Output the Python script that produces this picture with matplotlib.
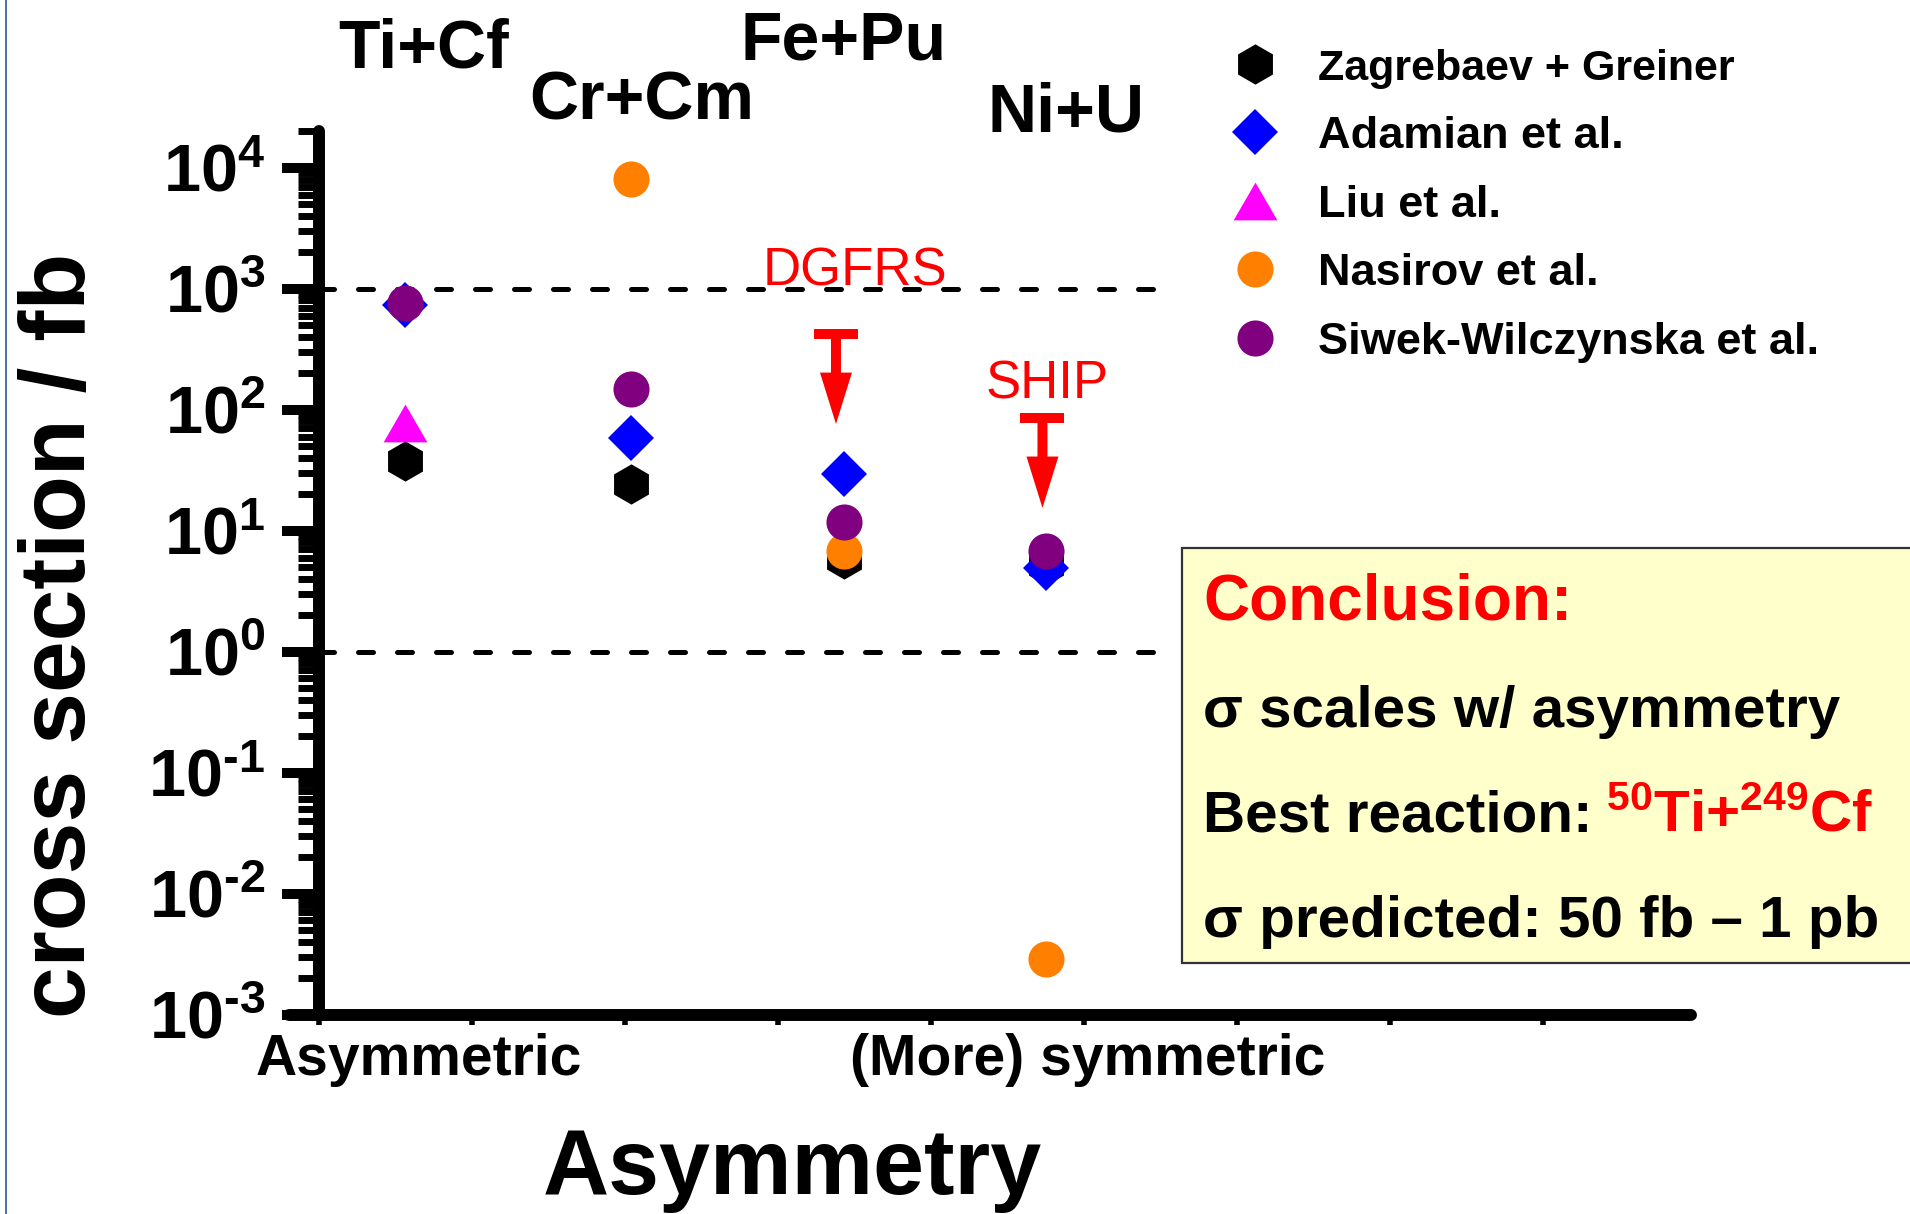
import numpy as np
import matplotlib
matplotlib.use("Agg")
import matplotlib.pyplot as plt
from matplotlib import transforms
from matplotlib.lines import Line2D
from matplotlib.patches import Rectangle
from matplotlib.ticker import LogLocator, FuncFormatter, FixedLocator

plt.rcParams['font.family'] = ['Liberation Sans', 'DejaVu Sans']
plt.rcParams['font.weight'] = 'bold'
plt.rcParams['mathtext.fontset'] = 'custom'
plt.rcParams['mathtext.rm'] = 'Liberation Sans:bold'
plt.rcParams['mathtext.it'] = 'Liberation Sans:bold'
plt.rcParams['mathtext.bf'] = 'Liberation Sans:bold'
plt.rcParams['mathtext.default'] = 'rm'

# ---------------- data ---------------- #
systems = ["Ti+Cf", "Cr+Cm", "Fe+Pu", "Ni+U"]
sys_x = [0.56, 2.04, 3.43, 4.75]

nan = np.nan
zagrebaev = [38, 24.4, 5.8, 5.2]
adamian = [741, 58.7, 29.4, 4.9]
liu = [77, nan, nan, nan]
nasirov = [nan, 8020, 6.85, 0.00287]
siwek = [760, 148, 11.8, 6.85]

series_names = ["Zagrebaev + Greiner", "Adamian et al.", "Liu et al.",
                "Nasirov et al.", "Siwek-Wilczynska et al."]

exp_labels = ["DGFRS", "SHIP"]
exp_x = [3.38, 4.73]
exp_limits = [425, 86]

ref_levels = [1e3, 1e0]

box_lines = ["Conclusion:", "\u03c3 scales w/ asymmetry", "Best reaction:",
             "\u03c3 predicted: 50 fb \u2013 1 pb"]

# ---------------- layout (pixels) ---------------- #
W, H = 1910, 1214


def fx(px):
    return px / W


def fy(py):
    return 1 - py / H


def exp_label(v, pos):
    e = int(round(np.log10(v)))
    s = str(e).replace('-', '\u2010')   # short hyphen like the original
    return r'$10^{%s}$' % s


fig = plt.figure(figsize=(W / 100, H / 100), dpi=100)
ax = fig.add_axes([fx(289), fy(1014.5), 1402 / W, 883.1 / H])

# left border line of the slide
fig.add_artist(Line2D([fx(6), fx(6)], [0, 1], transform=fig.transFigure,
                      color='#2F5597', lw=1.2))

# reference dashed lines
lc = ax.hlines(ref_levels, 0, 5.56, colors='black', lw=3.6,
               linestyles=(0, (3, 4.8)), zorder=1)
lc.set_capstyle('round')

tri = [(0, 1), (-1.16, -1), (1.16, -1)]
ax.plot(sys_x, zagrebaev, ls='none', marker='h', ms=29, mew=0, color='black',
        label=series_names[0], clip_on=False, zorder=3)
ax.plot(sys_x, adamian, ls='none', marker='D', ms=23, mew=0, color='#0000FF',
        label=series_names[1], clip_on=False, zorder=3)
ax.plot(sys_x, liu, ls='none', marker=tri, ms=31.5, mew=0, color='#FF00FF',
        label=series_names[2], clip_on=False, zorder=3)
ax.plot(sys_x, nasirov, ls='none', marker='o', ms=26, mew=0, color='#FF8000',
        label=series_names[3], clip_on=False, zorder=3)
ax.plot(sys_x, siwek, ls='none', marker='o', ms=26, mew=0, color='#800080',
        label=series_names[4], clip_on=False, zorder=3)

# experimental upper limits
arrow_len = 65  # points
label_off = [(13.7, 34.6), (3.6, 13.7)]
for x, lim, lab, off in zip(exp_x, exp_limits, exp_labels, label_off):
    ax.plot([x], [lim], marker='_', ms=31, mew=7.2, color='red', zorder=4)
    tip_tr = ax.transData + transforms.ScaledTranslation(0, -arrow_len / 72, fig.dpi_scale_trans)
    ax.annotate('', xy=(x, lim), xycoords=tip_tr, xytext=(x, lim), textcoords='data',
                arrowprops=dict(arrowstyle='simple,head_length=3.7,head_width=2.3,tail_width=0.72',
                                mutation_scale=10, color='red', lw=0,
                                shrinkA=0, shrinkB=0), zorder=4)
    ax.annotate(lab, xy=(x, lim), xytext=off, textcoords='offset points',
                ha='center', va='baseline', color='red', fontsize=38,
                fontweight='normal', zorder=5)

# axes
ax.set_yscale('log')
ax.set_ylim(1e-3, 2e4)
ax.set_xlim(-0.196, 8.97)
ax.yaxis.set_major_locator(LogLocator(base=10, numticks=20))
ax.yaxis.set_minor_locator(LogLocator(base=10, subs=np.arange(2, 10), numticks=20))
ax.yaxis.set_major_formatter(FuncFormatter(exp_label))
ax.xaxis.set_major_locator(FixedLocator(range(0, 9)))
ax.set_xticklabels([])

for s in ['top', 'right']:
    ax.spines[s].set_visible(False)
ax.spines['left'].set_position(('data', 0))
for s in ['left', 'bottom']:
    ax.spines[s].set_linewidth(8.6)
    ax.spines[s].set_capstyle('round')

ax.tick_params(axis='y', which='major', direction='out', length=26.6, width=7.2,
               pad=12, labelsize=48)
ax.tick_params(axis='y', which='minor', direction='out', length=15, width=5)
ax.tick_params(axis='x', which='major', direction='out', length=7.2, width=4)

# legend
leg = ax.legend(loc='upper left', bbox_to_anchor=(fx(1232), fy(48)),
                bbox_transform=fig.transFigure, frameon=False, fontsize=32.5,
                handlelength=1.0, handletextpad=0.9, labelspacing=0.61,
                borderpad=0, borderaxespad=0, numpoints=1)
leg.get_texts()[0].set_fontsize(31)

# system labels on top
sys_label_px = [(424, 67), (642, 120), (844, 60), (1066, 132)]
for name, (px, py) in zip(systems, sys_label_px):
    fig.text(fx(px), fy(py), name, ha='center', va='baseline', fontsize=49)

# axis texts
fig.text(fx(61), fy(635), "cross section / fb", rotation=90, ha='center',
         va='center', fontsize=67)
fig.text(fx(792), fy(1194), "Asymmetry", ha='center', va='baseline', fontsize=66)
fig.text(fx(419), fy(1075), "Asymmetric", ha='center', va='baseline', fontsize=41)
fig.text(fx(1088), fy(1075), "(More) symmetric", ha='center', va='baseline', fontsize=41)

# conclusion box
fig.add_artist(Rectangle((fx(1182), fy(963)), (W + 10 - 1182) / W, (963 - 548) / H,
                         transform=fig.transFigure, facecolor='#FFFFCC',
                         edgecolor='#333333', lw=1.6, zorder=5, clip_on=False))
box_base = [620, 727, 832, 937]
box_size = [46, 42, 42, 42]
box_color = ['red', 'black', 'black', 'black']
texts = []
for line, b, sz, c in zip(box_lines, box_base, box_size, box_color):
    texts.append(fig.text(fx(1203), fy(b), line, ha='left', va='baseline',
                          fontsize=sz, color=c, zorder=6))

renderer = fig.canvas.get_renderer()
bb = texts[2].get_window_extent(renderer)
fig.text((bb.x1 + 13) / W, fy(box_base[2]), r'$^{50}$Ti+$^{249}$Cf', ha='left',
         va='baseline', fontsize=42, color='red', zorder=6)

fig.savefig("out.png", dpi=100)
